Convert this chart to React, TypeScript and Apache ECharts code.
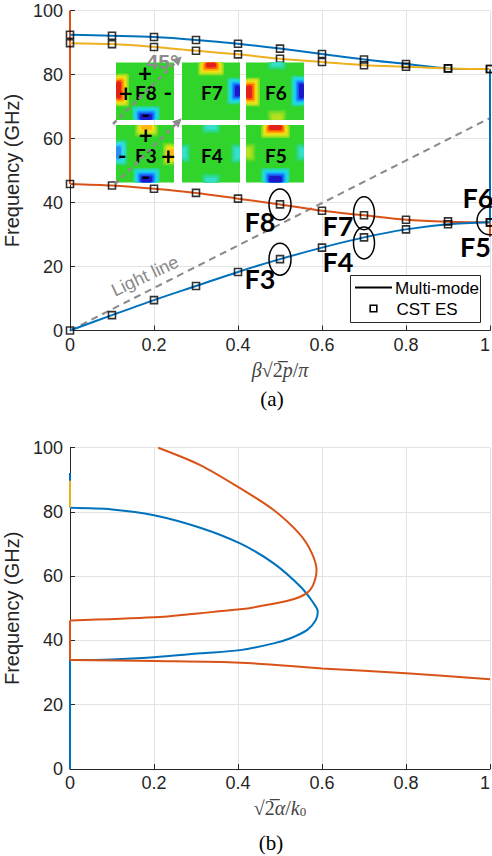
import React, { useEffect, useRef } from 'react';
import * as echarts from 'echarts';

// ---------------- (a) dispersion diagram, x = β√2p/π ----------------
const BETA = [0, 0.1, 0.2, 0.3, 0.4, 0.5, 0.6, 0.7, 0.8, 0.9, 1];
// Multi-mode curves (GHz)
const MM_BLUE_UPPER = [92.4, 92.1, 91.7, 90.8, 89.6, 88.1, 86.4, 84.7, 83.3, 81.9, 81.7];
const MM_YELLOW = [89.8, 89.5, 88.6, 87.4, 86.3, 84.9, 83.9, 82.9, 82.4, 81.9, 81.7];
const MM_RED = [45.8, 45.3, 44.3, 43.0, 41.2, 39.4, 37.4, 36.0, 34.6, 34.0, 33.8];
const MM_BLUE_LOWER = [0, 4.8, 9.5, 13.9, 18.3, 22.3, 25.9, 29.1, 31.6, 33.2, 33.8];
// CST eigen-solver points (GHz)
const CST_BLUE_UPPER = [92.4, 92.1, 91.7, 90.8, 89.6, 88.1, 86.4, 84.7, 83.3, 81.9, 81.7];
const CST_YELLOW = [89.8, 89.5, 88.6, 87.4, 86.3, 84.9, 83.9, 82.9, 82.4, 81.9, 81.7];
const CST_RED = [45.8, 45.3, 44.3, 43.0, 41.2, 39.4, 37.4, 36.0, 34.6, 34.1, 33.8];
const CST_BLUE_LOWER = [0, 4.8, 9.5, 13.9, 18.3, 22.3, 25.9, 29.1, 31.6, 33.2, 33.8];
// vertical band-edge segments
const RED_AT_0 = [100, 45.8];
const BLUE_AT_1 = [81.7, 33.8];
const RED_AT_1 = [33.8, 29.2];
const LIGHT_LINE_X = [0, 1];
const LIGHT_LINE_F = [0, 66.4];

// ---------------- (b) attenuation, x = √2α/k0 ----------------
const B_BLUE_LOOP_A = [0, 0.1, 0.2, 0.31, 0.405, 0.485, 0.525, 0.565, 0.585, 0.59, 0.58, 0.549, 0.485, 0.405, 0.31, 0.2, 0.1, 0];
const B_BLUE_LOOP_F = [33.9, 34.1, 34.8, 36.0, 37.0, 39.1, 40.7, 43.3, 46.3, 49.0, 51.6, 56.7, 64.0, 70.2, 75.1, 79.0, 80.8, 81.3];
const B_RED_LOOP_A = [0, 0.2, 0.31, 0.405, 0.445, 0.525, 0.562, 0.578, 0.587, 0.576, 0.549, 0.485, 0.405, 0.31, 0.21];
const B_RED_LOOP_F = [46.2, 47.2, 48.5, 49.7, 50.5, 52.6, 54.6, 57.0, 61.9, 67.1, 72.8, 80.6, 87.4, 94.6, 100];
const B_RED_LOW_A = [0, 0.2, 0.405, 0.6, 0.8, 1];
const B_RED_LOW_F = [33.9, 33.6, 33.1, 31.3, 29.8, 27.9];
const B_BLUE_AT_0_LOW = [0, 33.9];
const B_RED_AT_0 = [33.9, 46.2];
const B_BLUE_AT_0_HIGH = [81.3, 92.1];
const B_YELLOW_AT_0 = [81.3, 89.7];

const X_TICKS = [0, 0.2, 0.4, 0.6, 0.8, 1];
const Y_TICKS = [0, 20, 40, 60, 80, 100];

// ---------------- styling ----------------
const BLUE = '#0072BD';
const RED = '#D95319';
const YELLOW = '#EDB120';
const AXIS = '#262626';
const GRIDC = '#e3e3e3';
const SANS = "'Liberation Sans', Arial, Helvetica, sans-serif";
const SERIF = "'Liberation Serif', 'Times New Roman', serif";
const BOLD = "Lato, 'Open Sans', sans-serif";
const GREEN = '#30d42a';

const zip = (xs: number[], ys: number[]) => xs.map((x, i) => [x, ys[i]]);
const vert = (x: number, fs: number[]) => fs.map((f) => [x, f]);

function line(data: number[][], color: string, gi: number, opts: any = {}) {
  return {
    type: 'line',
    xAxisIndex: gi,
    yAxisIndex: gi,
    data,
    symbol: 'none',
    smooth: 0.3,
    clip: false,
    lineStyle: { color, width: 2 },
    itemStyle: { color },
    z: 3,
    ...opts,
  };
}

function markers(ys: number[]) {
  return {
    type: 'scatter',
    xAxisIndex: 0,
    yAxisIndex: 0,
    data: zip(BETA, ys),
    symbol: 'rect',
    symbolSize: 7,
    clip: false,
    itemStyle: { color: 'rgba(255,255,255,0)', borderColor: '#000', borderWidth: 1.6 },
    z: 6,
  };
}

function axisBase(extra: any) {
  return {
    type: 'value',
    axisLine: { show: true, onZero: false, lineStyle: { color: AXIS, width: 1 } },
    axisTick: { show: true, inside: true, length: 5, lineStyle: { color: AXIS } },
    splitLine: { show: true, lineStyle: { color: GRIDC, width: 1 } },
    ...extra,
  };
}

function xAxisFor(gi: number, name: string, rich: any) {
  return axisBase({
    gridIndex: gi,
    min: X_TICKS[0],
    max: X_TICKS[X_TICKS.length - 1],
    interval: X_TICKS[1] - X_TICKS[0],
    axisLabel: { color: AXIS, fontSize: 18, fontFamily: SANS, margin: 5, alignMaxLabel: 'right' },
    name,
    nameLocation: 'middle',
    nameGap: 29,
    nameTextStyle: { rich },
  });
}

function yAxisFor(gi: number) {
  return axisBase({
    gridIndex: gi,
    min: Y_TICKS[0],
    max: Y_TICKS[Y_TICKS.length - 1],
    interval: Y_TICKS[1] - Y_TICKS[0],
    axisLabel: { color: AXIS, fontSize: 18, fontFamily: SANS, margin: 7 },
    name: 'Frequency (GHz)',
    nameLocation: 'middle',
    nameGap: 37,
    nameTextStyle: { color: AXIS, fontSize: 20, fontFamily: SANS },
  });
}

const RICH = {
  i: { fontFamily: SERIF, fontStyle: 'italic', fontSize: 20, color: '#444' },
  r: { fontFamily: SERIF, fontSize: 20, color: '#444' },
  s: { fontFamily: SERIF, fontSize: 13, color: '#444', verticalAlign: 'bottom', padding: [6, 0, 0, 0] },
};

function buildOption() {
  return {
    animation: false,
    backgroundColor: '#fff',
    grid: [
      { left: 70, right: 2, top: 10.5, height: 320, containLabel: false, outerBoundsMode: 'none' },
      { left: 70, right: 2, top: 447.7, height: 321.3, containLabel: false, outerBoundsMode: 'none' },
    ],
    xAxis: [
      xAxisFor(0, '{i|β}{r|√2\u0305}{i|p}{r|/}{i|π}', RICH),
      xAxisFor(1, '{r|√2\u0305}{i|α}{r|/}{i|k}{s|0}', RICH),
    ],
    yAxis: [yAxisFor(0), yAxisFor(1)],
    series: [
      // (a)
      line(zip(LIGHT_LINE_X, LIGHT_LINE_F), '#8a8a8a', 0, {
        smooth: false,
        lineStyle: { color: '#8a8a8a', width: 2, type: [7, 5] },
        z: 2,
      }),
      line(vert(0, RED_AT_0), RED, 0, { smooth: false }),
      line(vert(1, BLUE_AT_1), BLUE, 0, { smooth: false }),
      line(vert(1, RED_AT_1), RED, 0, { smooth: false }),
      line(zip(BETA, MM_BLUE_UPPER), BLUE, 0),
      line(zip(BETA, MM_YELLOW), YELLOW, 0),
      line(zip(BETA, MM_RED), RED, 0),
      line(zip(BETA, MM_BLUE_LOWER), BLUE, 0),
      markers(CST_BLUE_UPPER),
      markers(CST_YELLOW),
      markers(CST_RED),
      markers(CST_BLUE_LOWER),
      // (b)
      line(vert(0, B_BLUE_AT_0_LOW), BLUE, 1, { smooth: false }),
      line(vert(0, B_BLUE_AT_0_HIGH), BLUE, 1, { smooth: false }),
      line(vert(0, B_YELLOW_AT_0), YELLOW, 1, { smooth: false, z: 4 }),
      line(vert(0, B_RED_AT_0), RED, 1, { smooth: false }),
      line(zip(B_BLUE_LOOP_A, B_BLUE_LOOP_F), BLUE, 1),
      line(zip(B_RED_LOOP_A, B_RED_LOOP_F), RED, 1),
      line(zip(B_RED_LOW_A, B_RED_LOW_F), RED, 1),
    ],
  };
}

// ---------------- field-pattern thumbnails ----------------
const TW = 58;
const TH = 57.5;
type Blob = { x: number; y: number; w: number; h: number; k: string };
const PALETTE: Record<string, string[]> = {
  red: ['#86dc20', '#c8e41a', '#f4e018', '#ffa800', '#ff5a08', '#e4201a'],
  blue: ['#28d48c', '#22dcc8', '#1ad0f4', '#1a96ff', '#1a52f0', '#1a1ac8'],
  orange: ['#66d824', '#a0e01e', '#d4e41a', '#f4dc18', '#ffb810'],
  cyan: ['#2ad474', '#2cdcb0', '#2ee0dc', '#30c4f8', '#2a90f0'],
  yellowFaint: ['#52d628', '#78dc24', '#9ade20', '#b4e01e'],
  cyanFaint: ['#2ed450', '#2cd884', '#2cdcb0', '#38e0cc'],
};
const THUMBS: { label: string; x: number; y: number; blobs: Blob[]; signs: [string, number, number][] }[] = [
  {
    label: 'F8', x: 116, y: 62.5,
    blobs: [{ x: 0, y: 19, w: 5, h: 17, k: 'red' }, { x: 24, y: 51.5, w: 12, h: 6, k: 'blue' }],
    signs: [['+', 29, 9.5], ['+', 9.7, 29.8], ['-', 51.7, 29.8], ['-', 29.7, 51]],
  },
  { label: 'F7', x: 182, y: 62.5, blobs: [{ x: 24, y: 0, w: 10, h: 5, k: 'red' }, { x: 53, y: 23, w: 5, h: 11, k: 'blue' }], signs: [] },
  {
    label: 'F6', x: 246, y: 62.5,
    blobs: [
      { x: 0, y: 23, w: 6, h: 13, k: 'red' }, { x: 53, y: 21, w: 5, h: 15, k: 'blue' },
      { x: 26, y: 52, w: 10, h: 5.5, k: 'yellowFaint' }, { x: 26, y: 0, w: 10, h: 3, k: 'cyanFaint' },
    ],
    signs: [],
  },
  {
    label: 'F3', x: 116, y: 125,
    blobs: [
      { x: 25, y: 0, w: 11, h: 5, k: 'orange' }, { x: 0, y: 21, w: 5, h: 13, k: 'cyan' },
      { x: 53, y: 24, w: 5, h: 10, k: 'orange' }, { x: 25, y: 51, w: 11, h: 6.5, k: 'blue' },
    ],
    signs: [['+', 29.7, 9.3], ['-', 6.3, 30], ['+', 52.3, 30], ['-', 29.7, 51]],
  },
  {
    label: 'F4', x: 182, y: 125,
    blobs: [
      { x: 24, y: 0, w: 10, h: 4, k: 'cyanFaint' }, { x: 0, y: 23, w: 4, h: 10, k: 'cyanFaint' },
      { x: 53, y: 23, w: 5, h: 11, k: 'cyanFaint' }, { x: 24, y: 53, w: 10, h: 4.5, k: 'cyanFaint' },
    ],
    signs: [],
  },
  {
    label: 'F5', x: 246, y: 125,
    blobs: [
      { x: 23, y: 0, w: 13, h: 5, k: 'red' }, { x: 23, y: 51, w: 13, h: 6.5, k: 'blue' },
      { x: 0, y: 23, w: 5, h: 9, k: 'yellowFaint' }, { x: 54, y: 23, w: 4, h: 9, k: 'cyanFaint' },
    ],
    signs: [],
  },
];

// annotation ellipses around selected modes
const ANNOT_POINTS: { lab: string; vals: number[]; idx: number; dy: number; rx: number; ry: number; lx: number; ly: number }[] = [
  { lab: 'F8', vals: MM_RED, idx: 5, dy: 0, rx: 11, ry: 15.5, lx: -20, ly: 17 },
  { lab: 'F3', vals: MM_BLUE_LOWER, idx: 5, dy: 0, rx: 11, ry: 16, lx: -20, ly: 19.5 },
  { lab: 'F7', vals: MM_RED, idx: 7, dy: -2, rx: 10.5, ry: 16.5, lx: -26, ly: 10.5 },
  { lab: 'F4', vals: MM_BLUE_LOWER, idx: 7, dy: 5.5, rx: 10.5, ry: 16, lx: -26, ly: 24 },
];

const centered = { align: 'center', verticalAlign: 'middle', textAlign: 'center', textVerticalAlign: 'middle' };

function buildGraphic(chart: any) {
  const px = (x: number, y: number, gi = 0) => chart.convertToPixel({ gridIndex: gi }, [x, y]) as number[];
  const els: any[] = [];

  // thumbnails
  THUMBS.forEach((t) => {
    els.push({ type: 'rect', shape: { x: t.x, y: t.y, width: TW, height: TH }, style: { fill: GREEN }, z: 20 });
    t.blobs.forEach((b) => {
      const layers = PALETTE[b.k];
      layers.forEach((c, li) => {
        const grow = (layers.length - 1 - li) * 1.6;
        const x0 = Math.max(0, b.x - grow);
        const y0 = Math.max(0, b.y - grow);
        const x1 = Math.min(TW, b.x + b.w + grow);
        const y1 = Math.min(TH, b.y + b.h + grow);
        els.push({
          type: 'rect',
          shape: { x: t.x + x0, y: t.y + y0, width: x1 - x0, height: y1 - y0, r: 2 },
          style: { fill: c },
          z: 21 + li,
        });
      });
    });
    els.push({
      type: 'text', z: 30,
      style: { text: t.label, x: t.x + 30, y: t.y + 30, ...centered, fontSize: 19, fontWeight: 'bold', fontFamily: BOLD, fill: '#000' },
    });
    t.signs.forEach(([s, sx, sy]) => {
      els.push({
        type: 'text', z: 30,
        style: { text: s, x: t.x + sx, y: t.y + sy, ...centered, fontSize: s === '+' ? 24 : 23, fontWeight: 'bold', fontFamily: BOLD, fill: '#000' },
      });
    });
  });

  // 45° dashed arrows
  const arrows = [
    [113, 124, 181.7, 56.5],
    [115, 184, 181.7, 118.3],
  ];
  arrows.forEach(([x1, y1, x2, y2]) => {
    const L = Math.hypot(x2 - x1, y2 - y1);
    const ux = (x2 - x1) / L;
    const uy = (y2 - y1) / L;
    const bx = x2 - ux * 9;
    const by = y2 - uy * 9;
    els.push({
      type: 'line', z: 35,
      shape: { x1, y1, x2: bx, y2: by },
      style: { stroke: '#8c8c8c', lineWidth: 2.5, lineDash: [5, 4] },
    });
    els.push({
      type: 'polygon', z: 35,
      shape: { points: [[x2, y2], [bx - uy * 4.5, by + ux * 4.5], [bx + uy * 4.5, by - ux * 4.5]] },
      style: { fill: '#8c8c8c' },
    });
  });
  els.push({
    type: 'text', z: 36,
    style: { text: '45°', x: 162.5, y: 61, ...centered, fontSize: 21, fontWeight: 'bold', fontFamily: SANS, fill: '#8c8c8c' },
  });

  // Light line label
  els.push({
    type: 'text', z: 15, x: 145, y: 276, rotation: (25 * Math.PI) / 180,
    style: { text: 'Light line', x: 0, y: 0, ...centered, fontSize: 18, fontFamily: SANS, fill: '#8a8a8a' },
  });

  // ellipses + labels
  ANNOT_POINTS.forEach((a) => {
    const [cx, cy0] = px(BETA[a.idx], a.vals[a.idx]);
    const cy = cy0 + a.dy;
    els.push({ type: 'ellipse', z: 15, shape: { cx, cy, rx: a.rx, ry: a.ry }, style: { fill: 'none', stroke: '#000', lineWidth: 1.5 } });
    els.push({
      type: 'text', z: 15,
      style: { text: a.lab, x: cx + a.lx, y: cy0 + a.ly, ...centered, fontSize: 27, fontWeight: 'bold', fontFamily: BOLD, fill: '#000' },
    });
  });
  {
    const [cx, cy] = px(BETA[10], MM_RED[10]);
    els.push({ type: 'ellipse', z: 15, shape: { cx, cy: cy - 1.5, rx: 13, ry: 14 }, style: { fill: 'none', stroke: '#000', lineWidth: 1.5 } });
    els.push({
      type: 'text', z: 15,
      style: { text: 'F6', x: cx - 12, y: cy - 24.5, ...centered, fontSize: 27, fontWeight: 'bold', fontFamily: BOLD, fill: '#000' },
    });
    els.push({
      type: 'text', z: 15,
      style: { text: 'F5', x: cx - 14.5, y: cy + 24, ...centered, fontSize: 27, fontWeight: 'bold', fontFamily: BOLD, fill: '#000' },
    });
  }

  // legend
  els.push({ type: 'rect', z: 40, shape: { x: 350.5, y: 275.5, width: 130, height: 47 }, style: { fill: '#fff', stroke: AXIS, lineWidth: 1 } });
  els.push({ type: 'line', z: 41, shape: { x1: 355, y1: 287.5, x2: 392, y2: 287.5 }, style: { stroke: '#000', lineWidth: 2 } });
  els.push({
    type: 'text', z: 41,
    style: { text: 'Multi-mode', x: 395, y: 288, align: 'left', verticalAlign: 'middle', textAlign: 'left', textVerticalAlign: 'middle', fontSize: 17, fontFamily: SANS, fill: '#000' },
  });
  els.push({ type: 'rect', z: 41, shape: { x: 370.2, y: 305.2, width: 6.6, height: 6.6 }, style: { fill: 'none', stroke: '#000', lineWidth: 1.6 } });
  els.push({
    type: 'text', z: 41,
    style: { text: 'CST ES', x: 396.5, y: 309.5, align: 'left', verticalAlign: 'middle', textAlign: 'left', textVerticalAlign: 'middle', fontSize: 17, fontFamily: SANS, fill: '#000' },
  });

  // sub-figure captions
  els.push({
    type: 'text', z: 5,
    style: { text: '(a)', x: 272, y: 399, ...centered, fontSize: 21, fontFamily: SERIF, fill: '#000' },
  });
  els.push({
    type: 'text', z: 5,
    style: { text: '(b)', x: 271, y: 843, ...centered, fontSize: 21, fontFamily: SERIF, fill: '#000' },
  });

  return els;
}

export default function App() {
  const ref = useRef<HTMLDivElement>(null);
  useEffect(() => {
    document.body.style.margin = '0';
    const chart = echarts.init(ref.current!, null, { renderer: 'svg' });
    chart.setOption(buildOption() as any);
    chart.setOption({ graphic: { elements: buildGraphic(chart) } } as any);
    return () => {
      chart.dispose();
    };
  }, []);
  return <div ref={ref} style={{ width: 492, height: 856 }} />;
}
